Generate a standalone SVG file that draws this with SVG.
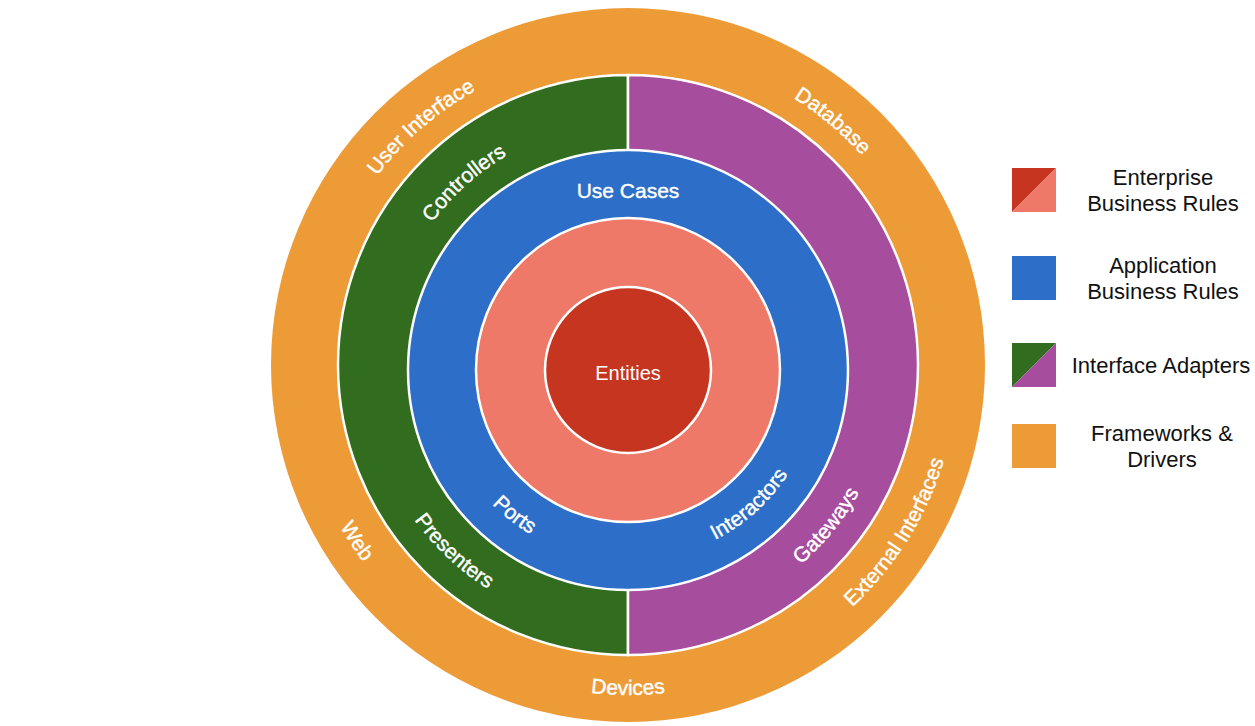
<svg xmlns="http://www.w3.org/2000/svg" xmlns:xlink="http://www.w3.org/1999/xlink" width="1255" height="726" viewBox="0 0 1255 726">
<style>
.ring{stroke:#fff;stroke-width:2.5}
.lbl{font-family:"Liberation Sans",Arial,sans-serif;font-size:21px;fill:#fff;stroke:#fff;stroke-width:0.4}
.ent{font-family:"Liberation Sans",Arial,sans-serif;font-size:20px;fill:#fff}
.leg{font-family:"Liberation Sans",Arial,sans-serif;font-size:22px;fill:#111;text-anchor:middle}
</style>
<defs>
<path id="t242" d="M389.68,322.98 A242,242 0 0 1 866.32,322.98"/>
<path id="t314" d="M318.77,310.47 A314,314 0 0 1 937.23,310.47"/>
<path id="b191" d="M439.90,403.17 A191,191 0 0 0 816.10,403.17"/>
<path id="b264" d="M368.01,410.84 A264,264 0 0 0 887.99,410.84"/>
<path id="b330" d="M303.01,422.30 A330,330 0 0 0 952.99,422.30"/>
</defs>
<rect width="1255" height="726" fill="#fff"/>
<g id="frameworks">
<circle cx="628" cy="365" r="357" fill="#EC9B37"/>
</g>
<g id="adapters">
<path class="ring" d="M628,75 A290,290 0 0 0 628,655 Z" fill="#326C1F"/>
<path class="ring" d="M628,75 A290,290 0 0 1 628,655 Z" fill="#A64D9E"/>
</g>
<g id="usecases">
<circle class="ring" cx="628" cy="370" r="220" fill="#2D6FC8"/>
</g>
<g id="enterprise">
<circle class="ring" cx="628" cy="370" r="152" fill="#EE7968"/>
<circle class="ring" cx="628" cy="370" r="83" fill="#C5351F"/>
<text class="ent" x="628" y="380" text-anchor="middle">Entities</text>
</g>
<g id="labels">
<text class="lbl" transform="rotate(-41 628 365)"><textPath xlink:href="#t314" href="#t314" startOffset="50%" text-anchor="middle">User Interface</textPath></text>
<text class="lbl" transform="rotate(40 628 365)"><textPath xlink:href="#t314" href="#t314" startOffset="50%" text-anchor="middle">Database</textPath></text>
<text class="lbl" transform="rotate(-42 628 365)"><textPath xlink:href="#t242" href="#t242" startOffset="50%" text-anchor="middle">Controllers</textPath></text>
<text class="lbl" x="628" y="198" text-anchor="middle">Use Cases</text>
<text class="lbl" transform="rotate(38 628 370)"><textPath xlink:href="#b191" href="#b191" startOffset="50%" text-anchor="middle">Ports</textPath></text>
<text class="lbl" transform="rotate(-42 628 370)"><textPath xlink:href="#b191" href="#b191" startOffset="50%" text-anchor="middle">Interactors</textPath></text>
<text class="lbl" transform="rotate(-51 628 365)"><textPath xlink:href="#b264" href="#b264" startOffset="50%" text-anchor="middle">Gateways</textPath></text>
<text class="lbl" transform="rotate(43 628 365)"><textPath xlink:href="#b264" href="#b264" startOffset="50%" text-anchor="middle">Presenters</textPath></text>
<text class="lbl" transform="rotate(-58 628 365)"><textPath xlink:href="#b330" href="#b330" startOffset="50%" text-anchor="middle">External Interfaces</textPath></text>
<text class="lbl" transform="rotate(57 628 365)"><textPath xlink:href="#b330" href="#b330" startOffset="50%" text-anchor="middle">Web</textPath></text>
<text class="lbl"><textPath xlink:href="#b330" href="#b330" startOffset="50%" text-anchor="middle">Devices</textPath></text>
</g>
<g id="legend">
<g id="legend-enterprise">
<polygon points="1012,168 1056,168 1012,212" fill="#C5351F"/>
<polygon points="1056,168 1056,212 1012,212" fill="#EE7968"/>
<text class="leg" x="1163" y="185">Enterprise</text>
<text class="leg" x="1163" y="211">Business Rules</text>
</g>
<g id="legend-application">
<rect x="1012" y="256" width="44" height="44" fill="#2D6FC8"/>
<text class="leg" x="1163" y="273">Application</text>
<text class="leg" x="1163" y="299">Business Rules</text>
</g>
<g id="legend-adapters">
<polygon points="1012,343 1056,343 1012,387" fill="#326C1F"/>
<polygon points="1056,343 1056,387 1012,387" fill="#A64D9E"/>
<text class="leg" x="1161" y="373">Interface Adapters</text>
</g>
<g id="legend-frameworks">
<rect x="1012" y="424" width="44" height="44" fill="#EC9B37"/>
<text class="leg" x="1162" y="441">Frameworks &amp;</text>
<text class="leg" x="1162" y="467">Drivers</text>
</g>
</g>
</svg>
